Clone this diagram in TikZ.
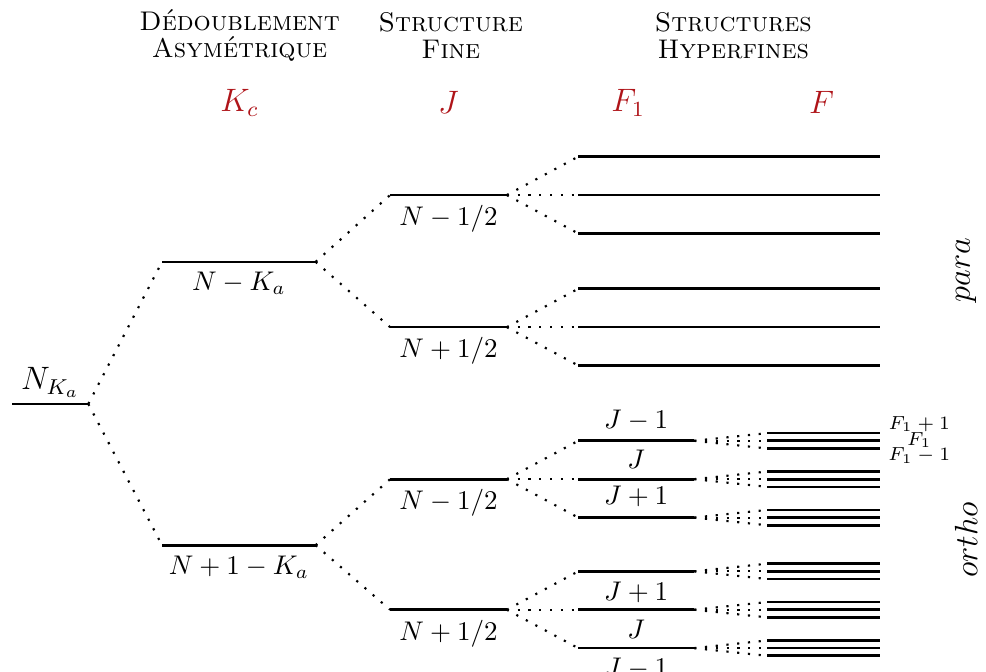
\documentclass[tikz,border=0pt]{standalone}
\usepackage{tikz}
\usetikzlibrary{positioning, calc}
\definecolor{QNRed}{RGB}{175,20,25}

\begin{document}
\begin{tikzpicture}[
          level/.style={line width=1pt},
          split/.style={thick, dash pattern=on 0.8pt off 3.2pt},
          qnum/.style={text=QNRed, font=\large},
          head/.style={align=center, font=\scshape},
          tag/.style={font=\large, rotate=90}
        ]
        \useasboundingbox (0,0) rectangle (12.84,-8.74);

        % Column headers
        \node[head] (h-kc) at (3.12,-0.46) {Dédoublement\\[-2pt]Asymétrique};
        \node[head] (h-j)  at (5.87,-0.46) {Structure\\[-2pt]Fine};
        \node[head] (h-f)  at (9.55,-0.46) {Structures\\[-2pt]Hyperfines};
        \node[qnum] (q-kc) at (3.12,-1.34) {$K_c$};
        \node[qnum] (q-j)  at (5.84,-1.34) {$J$};
        \node[qnum] (q-f1) at (8.18,-1.34) {$F_1$};
        \node[qnum] (q-f)  at (10.70,-1.34) {$F$};

        % Rotational level
        \coordinate (nk-w) at (0.16,-5.26);
        \coordinate (nk-e) at (1.15,-5.26);
        \draw[level] (nk-w) -- (nk-e)
              node[midway, above, inner sep=2pt, font=\large] (nk-lab) {$N_{K_a}$};

        % Asymmetry doubling
        \coordinate (kc1-w) at (2.11,-3.41);
        \coordinate (kc1-e) at (4.11,-3.41);
        \coordinate (kc2-w) at (2.11,-7.10);
        \coordinate (kc2-e) at (4.11,-7.10);
        \draw[level] (kc1-w) -- (kc1-e)
              node[midway, below] (kc1-lab) {$N-K_a$};
        \draw[level] (kc2-w) -- (kc2-e)
              node[midway, below] (kc2-lab) {$N+1-K_a$};
        \draw[split] (nk-e) -- (kc1-w);
        \draw[split] (nk-e) -- (kc2-w);

        % Fine structure
        \foreach \i/\y/\s in {1/-2.54/-, 2/-4.26/+, 3/-6.24/-, 4/-7.94/+} {
          \coordinate (j\i-w) at (5.08,\y);
          \coordinate (j\i-e) at (6.60,\y);
          \draw[level] (j\i-w) -- (j\i-e)
                node[midway, below] (j\i-lab) {$N\s1/2$};
        }
        \draw[split] (kc1-e) -- (j1-w);
        \draw[split] (kc1-e) -- (j2-w);
        \draw[split] (kc2-e) -- (j3-w);
        \draw[split] (kc2-e) -- (j4-w);

        % Hyperfine structure, para
        \foreach \i/\y in {1/-2.04, 2/-2.54, 3/-3.04, 4/-3.76, 5/-4.26, 6/-4.76} {
          \coordinate (fa\i-w) at (7.53,\y);
          \coordinate (fa\i-e) at (11.46,\y);
          \draw[level] (fa\i-w) -- (fa\i-e);
        }
        \foreach \i in {1,2,3} \draw[split] (j1-e) -- (fa\i-w);
        \foreach \i in {4,5,6} \draw[split] (j2-e) -- (fa\i-w);

        % Hyperfine structure, ortho
        \foreach \i/\y/\t/\p in {1/-5.74/J-1/above, 2/-6.24/J/above,
                                 3/-6.74/J+1/above, 4/-7.44/J+1/below,
                                 5/-7.94/J/below, 6/-8.44/J-1/below} {
          \coordinate (fo\i-w) at (7.53,\y);
          \coordinate (fo\i-e) at (9.04,\y);
          \draw[level] (fo\i-w) -- (fo\i-e)
                node[midway, \p] (fo\i-lab) {$\t$};
          \foreach \k/\d in {a/0.10, b/0, c/-0.10} {
            \coordinate (f\i\k-w) at (9.99,\y+\d);
            \coordinate (f\i\k-e) at (11.46,\y+\d);
            \draw[level] (f\i\k-w) -- (f\i\k-e);
            \draw[split] (fo\i-e) -- (f\i\k-w);
          }
        }
        \foreach \i in {1,2,3} \draw[split] (j3-e) -- (fo\i-w);
        \foreach \i in {4,5,6} \draw[split] (j4-e) -- (fo\i-w);

        \node[font=\scriptsize, inner sep=1pt] (lab-up)  at (11.97,-5.52) {$F_1+1$};
        \node[font=\scriptsize, inner sep=1pt] (lab-mid) at (11.97,-5.73) {$F_1$};
        \node[font=\scriptsize, inner sep=1pt] (lab-dn)  at (11.97,-5.93) {$F_1-1$};

        % Nuclear spin species
        \node[tag] (t-para)  at (12.58,-3.52) {$para$};
        \node[tag] (t-ortho) at (12.58,-7.03) {$ortho$};
      \end{tikzpicture}
\end{document}
